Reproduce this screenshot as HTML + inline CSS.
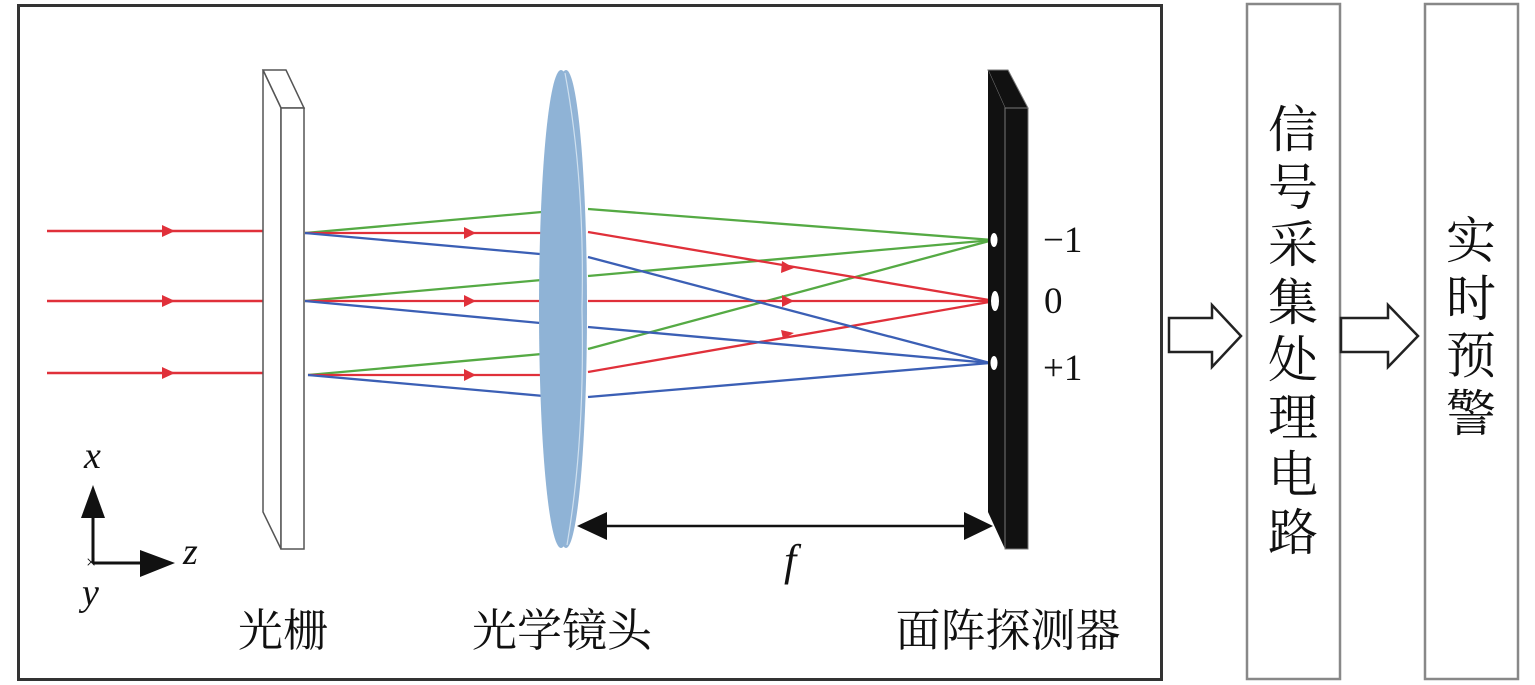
<!DOCTYPE html>
<html><head><meta charset="utf-8"><style>
html,body{margin:0;padding:0;background:#fff}
svg{display:block}
.cj{font-family:"Liberation Serif","Noto Serif CJK SC",serif;fill:#111}
.it{font-family:"Liberation Serif",serif;font-style:italic;fill:#111}
.num{font-family:"Liberation Serif",serif;fill:#111}
</style></head><body>
<svg width="1535" height="685" viewBox="0 0 1535 685" xmlns="http://www.w3.org/2000/svg">
<rect x="18.5" y="5.5" width="1143" height="674" fill="#fff" stroke="#333" stroke-width="3"/>
<rect x="1247" y="4" width="93" height="675" fill="#fff" stroke="#888" stroke-width="2.5"/>
<rect x="1425" y="4" width="93" height="675" fill="#fff" stroke="#888" stroke-width="2.5"/>
<polygon points="1169,318 1212,318 1212,305 1241,336 1212,367 1212,352 1169,352" fill="#fff" stroke="#222" stroke-width="2.5"/>
<polygon points="1341,318 1388,318 1388,305 1418,336 1388,367 1388,352 1341,352" fill="#fff" stroke="#222" stroke-width="2.5"/>
<g stroke="#e0303a" stroke-width="2.5">
<line x1="47" y1="231" x2="263" y2="231"/><line x1="47" y1="301" x2="263" y2="301"/><line x1="47" y1="373" x2="263" y2="373"/>
</g>
<g fill="#e0303a">
<polygon points="162,225 175,231 162,237"/><polygon points="162,295 175,301 162,307"/><polygon points="162,367 175,373 162,379"/>
</g>
<polygon points="263,70 286,70 304,108 281,108" fill="#fff" stroke="#555" stroke-width="1.5"/>
<polygon points="263,70 281,108 281,549 263,512" fill="#fff" stroke="#555" stroke-width="1.5"/>
<rect x="281" y="108" width="23" height="441" fill="#fff" stroke="#555" stroke-width="1.5"/>
<g stroke-width="2.3">
<line x1="305" y1="233" x2="553" y2="211" stroke="#55aa44"/>
<line x1="305" y1="233" x2="553" y2="233" stroke="#e0303a"/>
<line x1="305" y1="233" x2="551" y2="255" stroke="#3b5fb5"/>
<line x1="305" y1="301" x2="553" y2="279" stroke="#55aa44"/>
<line x1="305" y1="301" x2="553" y2="301" stroke="#e0303a"/>
<line x1="305" y1="301" x2="551" y2="324" stroke="#3b5fb5"/>
<line x1="308" y1="375" x2="553" y2="353" stroke="#55aa44"/>
<line x1="308" y1="375" x2="553" y2="375" stroke="#e0303a"/>
<line x1="308" y1="375" x2="555" y2="397" stroke="#3b5fb5"/>
</g>
<g fill="#e0303a">
<polygon points="464,227 476,233 464,239"/><polygon points="464,295 476,301 464,307"/><polygon points="464,369 476,375 464,381"/>
</g>
<ellipse cx="566" cy="309" rx="21" ry="239" fill="#92b4d6"/>
<ellipse cx="561" cy="309" rx="22" ry="239" fill="#8fb3d6"/>
<path d="M565,73 Q585,180 582,309 Q585,440 567,545" fill="none" stroke="#cfe0ef" stroke-width="1.2"/>
<g stroke-width="2.3">
<line x1="588" y1="209" x2="993" y2="240" stroke="#55aa44"/>
<line x1="588" y1="276" x2="993" y2="240" stroke="#55aa44"/>
<line x1="588" y1="349" x2="993" y2="240" stroke="#55aa44"/>
<line x1="588" y1="232" x2="995" y2="301" stroke="#e0303a"/>
<line x1="588" y1="301" x2="995" y2="301" stroke="#e0303a"/>
<line x1="588" y1="372" x2="995" y2="301" stroke="#e0303a"/>
<line x1="588" y1="257" x2="990" y2="363" stroke="#3b5fb5"/>
<line x1="588" y1="327" x2="990" y2="363" stroke="#3b5fb5"/>
<line x1="588" y1="397" x2="990" y2="363" stroke="#3b5fb5"/>
</g>
<g fill="#e0303a">
<polygon points="782,261 794,268 781,273"/><polygon points="782,295 794,301 782,307"/><polygon points="781,330 794,333 783,339"/>
</g>
<polygon points="988,70 1008,70 1028,108 1005,108" fill="#111" stroke="#777" stroke-width="1"/>
<polygon points="988,70 1005,108 1005,549 988,512" fill="#111"/>
<rect x="1005" y="108" width="23" height="441" fill="#111" stroke="#777" stroke-width="1"/>
<ellipse cx="994" cy="240" rx="3.5" ry="7" fill="#fff"/>
<ellipse cx="995" cy="301" rx="4" ry="10" fill="#fff"/>
<ellipse cx="994" cy="363" rx="3.5" ry="7" fill="#fff"/>
<text x="1043" y="252" class="num" font-size="37">−1</text>
<text x="1044" y="313" class="num" font-size="37">0</text>
<text x="1043" y="380" class="num" font-size="37">+1</text>
<line x1="600" y1="526" x2="970" y2="526" stroke="#111" stroke-width="2.5"/>
<polygon points="577,526 607,512 607,540" fill="#111"/>
<polygon points="993,526 964,512 964,540" fill="#111"/>
<text x="784" y="575" class="it" font-size="44">f</text>
<line x1="93" y1="563" x2="93" y2="515" stroke="#111" stroke-width="3"/>
<polygon points="93,485 81,518 105,518" fill="#111"/>
<line x1="93" y1="563" x2="142" y2="563" stroke="#111" stroke-width="3"/>
<polygon points="175,563 140,550 140,577" fill="#111"/>
<text x="86" y="568" class="num" font-size="18">×</text>
<text x="84" y="468" class="it" font-size="38">x</text>
<text x="183" y="564" class="it" font-size="38">z</text>
<text x="82" y="605" class="it" font-size="38">y</text>
<g class="cj" font-size="45" text-anchor="middle">
<text x="283" y="646">光栅</text>
<text x="562" y="646">光学镜头</text>
<text x="1008" y="646">面阵探测器</text>
</g>
<g class="cj" font-size="50" text-anchor="middle">
<text x="1293" y="147">信</text>
<text x="1293" y="205">号</text>
<text x="1293" y="262">采</text>
<text x="1293" y="320">集</text>
<text x="1293" y="377">处</text>
<text x="1293" y="435">理</text>
<text x="1293" y="492">电</text>
<text x="1293" y="550">路</text>
</g>
<g class="cj" font-size="50" text-anchor="middle">
<text x="1471" y="258">实</text>
<text x="1471" y="316">时</text>
<text x="1471" y="373">预</text>
<text x="1471" y="431">警</text>
</g>
</svg>
</body></html>
